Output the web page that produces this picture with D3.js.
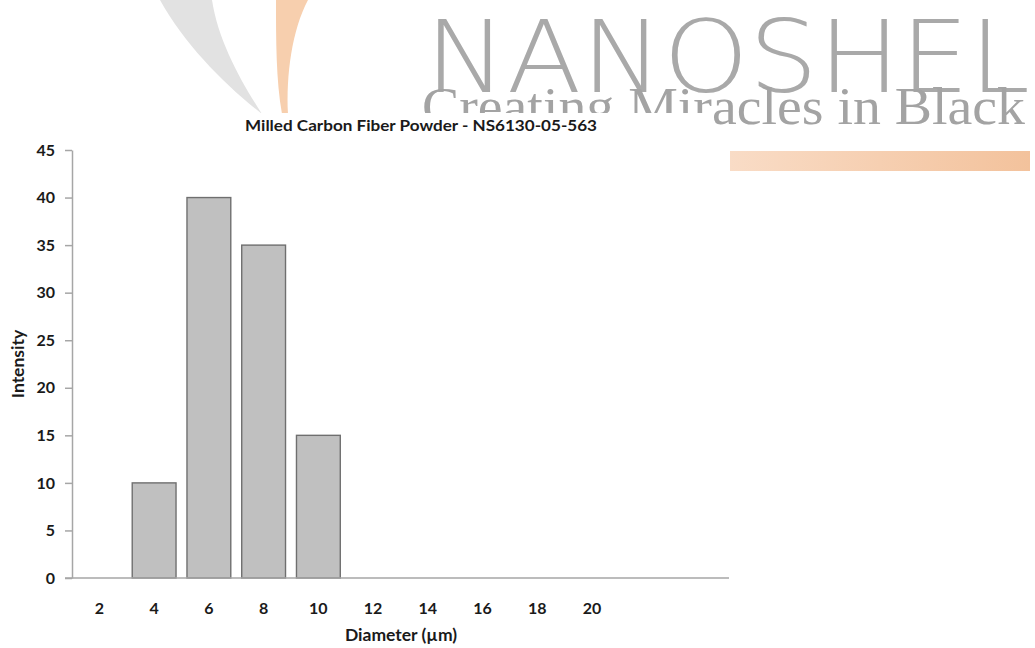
<!DOCTYPE html>
<html>
<head>
<meta charset="utf-8">
<script src="https://cdn.jsdelivr.net/npm/d3@7"></script>
<style>
  html, body { margin: 0; padding: 0; background: #ffffff; }
  svg { display: block; }
</style>
</head>
<body>
<svg id="chart" width="1035" height="648"></svg>
<script>
// ---- data ----
const categories = ["d2", "d4", "d6", "d8", "d10", "d12", "d14", "d16", "d18", "d20", "d22", "d24"];
const tickLabels = ["2", "4", "6", "8", "10", "12", "14", "16", "18", "20", "", ""];
const intensity = [0, 10, 40, 35, 15, 0, 0, 0, 0, 0, 0, 0];
const yTicks = [0, 5, 10, 15, 20, 25, 30, 35, 40, 45];
const title = "Milled Carbon Fiber Powder - NS6130-05-563";
const xTitle = "Diameter (\u00b5m)";
const yTitle = "Intensity";

const svg = d3.select("#chart");
const font = "Lato, 'Open Sans', sans-serif";

// ---- watermark / logo background ----
const defs = svg.append("defs");
const grad = defs.append("linearGradient").attr("id", "barGrad")
  .attr("x1", "0%").attr("x2", "100%").attr("y1", "0%").attr("y2", "0%");
grad.append("stop").attr("offset", "0%").attr("stop-color", "#f9dcc6");
grad.append("stop").attr("offset", "100%").attr("stop-color", "#f3c29c");

// gray crescent
svg.append("path")
  .attr("d", "M160,0 C185,45 225,85 262,114 C240,80 218,40 212,0 Z")
  .attr("fill", "#e2e2e2");
// orange crescent
svg.append("path")
  .attr("d", "M276,0 C276,40 276,80 282,114 L288,114 C286,75 292,30 308,0 Z")
  .attr("fill", "#f7cfae");

svg.append("text")
  .attr("x", 425).attr("y", 92)
  .attr("textLength", 605).attr("lengthAdjust", "spacingAndGlyphs")
  .attr("font-family", "'DejaVu Sans', sans-serif")
  .attr("font-weight", 200)
  .attr("font-size", 100)
  .attr("fill", "#a9a9a9")
  .text("NANOSHEL");

svg.append("text")
  .attr("x", 422).attr("y", 124)
  .attr("textLength", 603).attr("lengthAdjust", "spacingAndGlyphs")
  .attr("font-family", "'Liberation Serif', 'DejaVu Serif', serif")
  .attr("font-size", 52)
  .attr("fill", "#a3a3a3")
  .text("Creating Miracles in Black");

svg.append("rect")
  .attr("x", 730).attr("y", 151).attr("width", 300).attr("height", 20)
  .attr("fill", "url(#barGrad)");

// white chart area covering the watermark
svg.append("rect")
  .attr("x", 0).attr("y", 113).attr("width", 712).attr("height", 535)
  .attr("fill", "#ffffff");

// ---- chart ----
const plot = { left: 72, right: 729, top: 150, bottom: 578 };

const x = d3.scaleBand()
  .domain(categories)
  .range([plot.left, plot.right])
  .paddingInner(0.2)
  .paddingOuter(0.1);

const y = d3.scaleLinear()
  .domain([0, 45])
  .range([plot.bottom, plot.top]);

// title
svg.append("text")
  .attr("x", 421).attr("y", 131)
  .attr("text-anchor", "middle")
  .attr("textLength", 352).attr("lengthAdjust", "spacingAndGlyphs")
  .attr("font-family", font)
  .attr("font-weight", 700)
  .attr("font-size", 16)
  .attr("fill", "#1a1a1a")
  .text(title);

// bars
svg.append("g").selectAll("rect")
  .data(categories.map((c, i) => ({ c, v: intensity[i] })).filter(d => d.v > 0))
  .join("rect")
  .attr("x", d => x(d.c))
  .attr("y", d => y(d.v))
  .attr("width", x.bandwidth())
  .attr("height", d => y(0) - y(d.v))
  .attr("fill", "#c0c0c0")
  .attr("stroke", "#6f6f6f")
  .attr("stroke-width", 1.4);

// y axis
const yAxis = svg.append("g")
  .attr("transform", `translate(${plot.left},0)`)
  .call(d3.axisLeft(y).tickValues(yTicks).tickSize(7).tickPadding(10).tickSizeOuter(0));
yAxis.select(".domain").attr("stroke", "#a6a6a6").attr("stroke-width", 1.5);
yAxis.selectAll(".tick line").attr("stroke", "#a6a6a6").attr("stroke-width", 1.5);
yAxis.selectAll(".tick text")
  .attr("font-family", font).attr("font-weight", 700).attr("font-size", 16)
  .attr("fill", "#1a1a1a");

// x axis
const xAxis = svg.append("g")
  .attr("transform", `translate(0,${plot.bottom})`)
  .call(d3.axisBottom(x).tickSize(0).tickPadding(25).tickSizeOuter(0)
    .tickFormat((d, i) => tickLabels[i]));
xAxis.select(".domain")
  .attr("d", `M${plot.left - 7},0H${plot.right}`)
  .attr("stroke", "#a6a6a6").attr("stroke-width", 1.5);
xAxis.selectAll(".tick text")
  .attr("font-family", font).attr("font-weight", 700).attr("font-size", 16)
  .attr("fill", "#1a1a1a");

// axis titles
svg.append("text")
  .attr("x", 401).attr("y", 641)
  .attr("text-anchor", "middle")
  .attr("font-family", font).attr("font-weight", 700).attr("font-size", 17.5)
  .attr("fill", "#1a1a1a")
  .text(xTitle);

svg.append("text")
  .attr("transform", "translate(24,364) rotate(-90)")
  .attr("text-anchor", "middle")
  .attr("font-family", font).attr("font-weight", 700).attr("font-size", 17.5)
  .attr("fill", "#1a1a1a")
  .text(yTitle);
</script>
</body>
</html>
